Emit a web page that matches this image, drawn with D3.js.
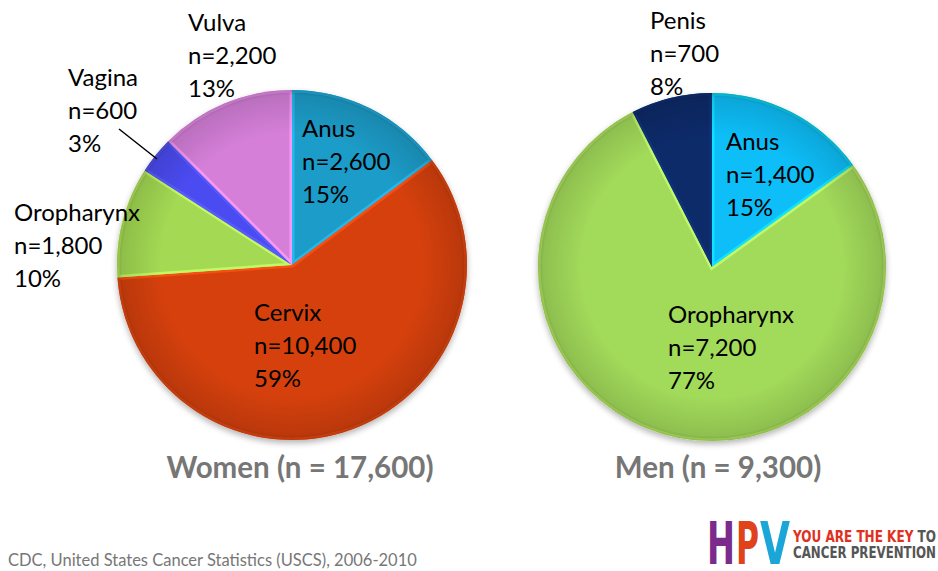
<!DOCTYPE html>
<html>
<head>
<meta charset="utf-8">
<script src="https://cdn.jsdelivr.net/npm/d3@7"></script>
<style>
	body { margin: 0; background: #fff; }
	svg { display: block; font-family: Lato, "Open Sans", sans-serif; }
</style>
</head>
<body>
<svg id="chart" width="938" height="571"></svg>
<script>
// Data
var womenSites = ['Anus', 'Cervix', 'Oropharynx', 'Vagina', 'Vulva'],
	womenCounts = [2600, 10400, 1800, 600, 2200],
	womenPct = [15, 59, 10, 3, 13],
	womenColors = ['#1f9cc8', '#d5410f', '#a3d952', '#4b4cf2', '#d57fd9'];

var menSites = ['Anus', 'Oropharynx', 'Penis'],
	menCounts = [1400, 7200, 700],
	menPct = [15, 77, 8],
	menColors = ['#0abef8', '#a2da5a', '#0b2a69'];

var titles = ['Women (n = 17,600)', 'Men (n = 9,300)'],
	source = 'CDC, United States Cancer Statistics (USCS), 2006-2010';

// Layout
var svg = d3.select('#chart'),
	defs = svg.append('defs'),
	fmt = d3.format(',');

var charts = [
	{ sites: womenSites, counts: womenCounts, pct: womenPct, colors: womenColors,
	  cx: 292, cy: 265, r: 175, title: titles[0], titleX: 300,
	  labels: { Anus: [302, 137], Cervix: [254, 321], Oropharynx: [14, 221], Vagina: [68, 86], Vulva: [188, 31] } },
	{ sites: menSites, counts: menCounts, pct: menPct, colors: menColors,
	  cx: 712, cy: 267, r: 174, title: titles[1], titleX: 718,
	  labels: { Anus: [726, 150], Oropharynx: [668, 323], Penis: [650, 29] } }
];

// shading for a slightly 3D look
var rim = defs.append('radialGradient').attr('id', 'rim');
rim.append('stop').attr('offset', '0.75').attr('stop-color', '#000').attr('stop-opacity', 0);
rim.append('stop').attr('offset', '0.97').attr('stop-color', '#000').attr('stop-opacity', 0.12);
rim.append('stop').attr('offset', '1').attr('stop-color', '#000').attr('stop-opacity', 0.25);

var shadow = defs.append('filter').attr('id', 'shadow')
	.attr('x', '-10%').attr('y', '-10%').attr('width', '120%').attr('height', '120%');
shadow.append('feGaussianBlur').attr('in', 'SourceAlpha').attr('stdDeviation', 3);
shadow.append('feOffset').attr('dx', 0).attr('dy', 3).attr('result', 'b');
shadow.append('feComponentTransfer').append('feFuncA').attr('type', 'linear').attr('slope', 0.3);
var m = shadow.append('feMerge');
m.append('feMergeNode');
m.append('feMergeNode').attr('in', 'SourceGraphic');

var pie = d3.pie().sort(null).value(function(d) { return d.count; });

charts.forEach(function(c, ci) {
	var data = c.sites.map(function(s, i) {
		return { site: s, count: c.counts[i], pct: c.pct[i], color: c.colors[i] };
	});
	var arc = d3.arc().innerRadius(0).outerRadius(c.r);
	var g = svg.append('g').attr('transform', 'translate(' + c.cx + ',' + c.cy + ')');

	var slices = g.append('g').attr('filter', 'url(#shadow)')
		.selectAll('g.slice').data(pie(data)).enter().append('g').attr('class', 'slice');

	slices.append('clipPath')
		.attr('id', function(d, i) { return 'clip' + ci + '_' + i; })
		.append('path').attr('d', arc);

	slices.append('path')
		.attr('d', arc)
		.style('fill', function(d) { return d.data.color; });

	// bevel highlight on the inside of each slice edge
	slices.append('path')
		.attr('d', arc)
		.attr('clip-path', function(d, i) { return 'url(#clip' + ci + '_' + i + ')'; })
		.style('fill', 'none')
		.style('stroke', function(d) { return d3.color(d.data.color).brighter(0.6); })
		.style('stroke-width', 5)
		.style('stroke-opacity', 0.8);

	g.append('circle').attr('r', c.r).style('fill', 'url(#rim)');

	// labels
	data.forEach(function(d) {
		var p = c.labels[d.site];
		var t = svg.append('text').attr('x', p[0]).attr('y', p[1])
			.style('font-size', '24px').style('fill', '#000');
		[d.site, 'n=' + fmt(d.count), d.pct + '%'].forEach(function(line, li) {
			t.append('tspan').attr('x', p[0]).attr('dy', li ? 33 : 0).text(line);
		});
	});

	svg.append('text')
		.attr('x', c.titleX).attr('y', 478)
		.attr('text-anchor', 'middle')
		.style('font-size', '29.5px').style('font-weight', 'bold').style('fill', '#767676')
		.text(c.title);
});

// leader line for Vagina
svg.append('line')
	.attr('x1', 119).attr('y1', 129).attr('x2', 157).attr('y2', 159)
	.style('stroke', '#000').style('stroke-width', 1.5);

// source note
svg.append('text').attr('x', 8).attr('y', 566)
	.style('font-size', '16.5px').style('fill', '#777').text(source);

// logo
var logoFont = '"DejaVu Sans Condensed", "Liberation Sans Narrow", sans-serif';
var letters = [['H', '#7a2b8c', 707, 28], ['P', '#e0431c', 736, 23], ['V', '#1aa7d8', 760, 30]];
svg.append('g').selectAll('text').data(letters).enter().append('text')
	.attr('x', function(d) { return d[2]; }).attr('y', 564)
	.attr('textLength', function(d) { return d[3]; }).attr('lengthAdjust', 'spacingAndGlyphs')
	.style('font-family', logoFont).style('font-weight', 'bold').style('font-size', '58px')
	.style('fill', function(d) { return d[1]; })
	.text(function(d) { return d[0]; });
var tag = svg.append('text').attr('x', 793).attr('y', 542)
	.attr('textLength', 143).attr('lengthAdjust', 'spacingAndGlyphs')
	.style('font-family', logoFont).style('font-weight', 'bold').style('font-size', '15px');
tag.append('tspan').style('fill', '#e0301e').text('YOU ARE THE KEY ');
tag.append('tspan').style('fill', '#555').text('TO');
svg.append('text').attr('x', 793).attr('y', 558)
	.attr('textLength', 143).attr('lengthAdjust', 'spacingAndGlyphs')
	.style('font-family', logoFont).style('font-weight', 'bold').style('font-size', '15px').style('fill', '#555')
	.text('CANCER PREVENTION');
</script>
</body>
</html>
